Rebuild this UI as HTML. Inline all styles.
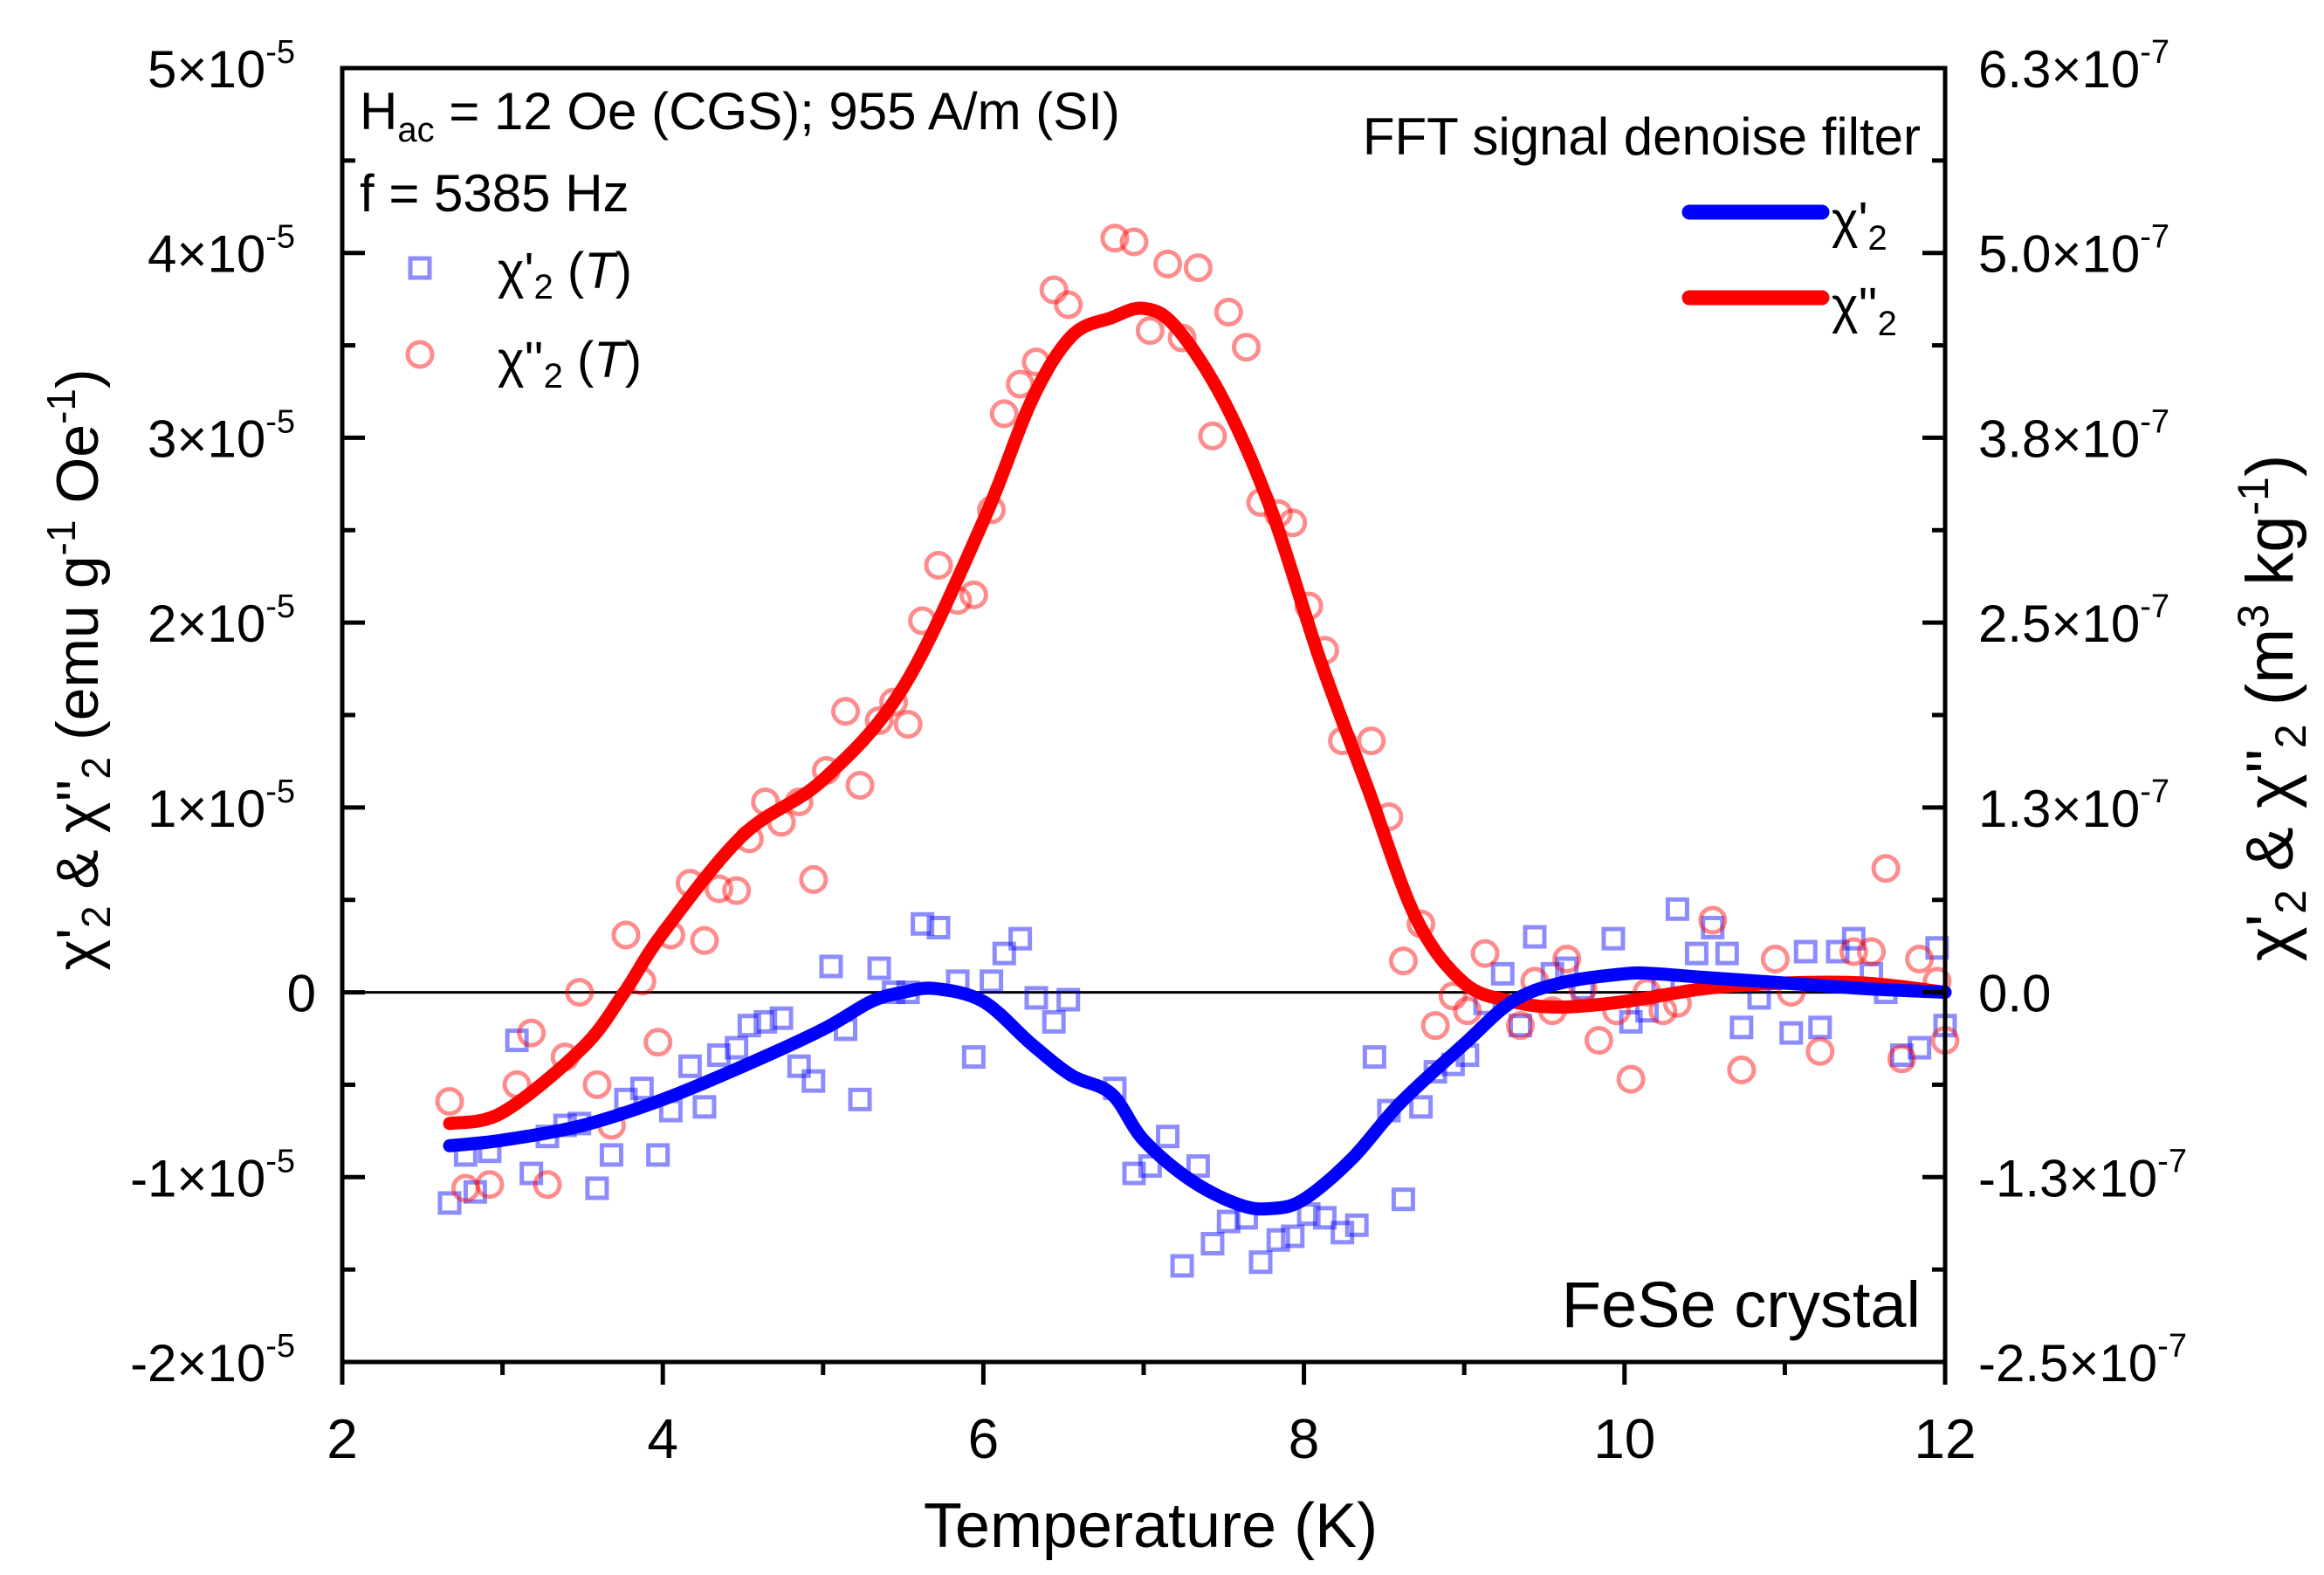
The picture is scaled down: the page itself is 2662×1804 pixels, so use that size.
<!DOCTYPE html>
<html><head><meta charset="utf-8"><style>
html,body{margin:0;padding:0;background:#fff;}
svg{display:block;font-family:"Liberation Sans",Arial,sans-serif;}
</style></head><body>
<svg id="chart" width="2662" height="1804" viewBox="0 0 2662 1804" xmlns="http://www.w3.org/2000/svg">
<g id="marks"></g>
<g id="axes"></g>
<g id="labels">
<text x="412" y="148" font-size="60">H<tspan font-size="40" dy="14">ac</tspan><tspan dy="-14"> = 12 Oe (CGS); 955 A/m (SI)</tspan></text>
<text x="412" y="242" font-size="60">f = 5385 Hz</text>
<text x="2200" y="177" font-size="60" text-anchor="end">FFT signal denoise filter</text>
<text x="2200" y="1520" font-size="74" text-anchor="end">FeSe crystal</text>
<g>
<rect x="470" y="296" width="22" height="22" fill="none" stroke="#0000ff" stroke-opacity="0.45" stroke-width="5"/>
<text x="570" y="330" font-size="58">χ'<tspan font-size="40" dy="12">2</tspan><tspan dy="-12"> (</tspan><tspan font-style="italic">T</tspan>)</text>
<circle cx="481" cy="406" r="14" fill="none" stroke="#ff0000" stroke-opacity="0.45" stroke-width="5"/>
<text x="570" y="432" font-size="58">χ''<tspan font-size="40" dy="12">2</tspan><tspan dy="-12"> (</tspan><tspan font-style="italic">T</tspan>)</text>
</g>
<g>
<line x1="1935" y1="243" x2="2087" y2="243" stroke="#0000ff" stroke-width="17" stroke-linecap="round"/>
<text x="2098" y="272" font-size="58">χ'<tspan font-size="40" dy="14">2</tspan></text>
<line x1="1935" y1="341" x2="2087" y2="341" stroke="#ff0000" stroke-width="17" stroke-linecap="round"/>
<text x="2098" y="370" font-size="58">χ''<tspan font-size="40" dy="14">2</tspan></text>
</g>
<text x="1318" y="1772" font-size="72" text-anchor="middle">Temperature (K)</text>
<text transform="translate(112,767) rotate(-90)" font-size="68" text-anchor="middle">χ'<tspan font-size="46" dy="14">2</tspan><tspan dy="-14"> &amp; χ''</tspan><tspan font-size="46" dy="14">2</tspan><tspan dy="-14"> (emu g</tspan><tspan font-size="46" dy="-26">-1</tspan><tspan dy="26"> Oe</tspan><tspan font-size="46" dy="-26">-1</tspan><tspan dy="26">)</tspan></text>
<text transform="translate(2626,811) rotate(-90)" font-size="76" text-anchor="middle">χ'<tspan font-size="50" dy="15">2</tspan><tspan dy="-15"> &amp; χ''</tspan><tspan font-size="50" dy="15">2</tspan><tspan dy="-15"> (m</tspan><tspan font-size="50" dy="-28">3</tspan><tspan dy="28"> kg</tspan><tspan font-size="50" dy="-28">-1</tspan><tspan dy="28">)</tspan></text>
</g>
</svg>
<script>
const xTicks = [2,4,6,8,10,12];
const yTicksLeft = [-2,-1,0,1,2,3,4,5];
const yTickLabelsLeft = ["-2×10","-1×10","0","1×10","2×10","3×10","4×10","5×10"];
const yTickLabelsRight = ["-2.5×10","-1.3×10","0.0","1.3×10","2.5×10","3.8×10","5.0×10","6.3×10"];
const chi1T = [2.67,2.77,2.83,2.92,3.09,3.18,3.28,3.39,3.48,3.59,3.68,3.77,3.87,3.97,4.05,4.17,4.26,4.35,4.46,4.54,4.64,4.74,4.85,4.94,5.05,5.14,5.23,5.35,5.44,5.53,5.62,5.72,5.84,5.94,6.05,6.13,6.23,6.33,6.44,6.53,6.82,6.94,7.04,7.15,7.24,7.34,7.43,7.53,7.64,7.73,7.84,7.93,8.03,8.13,8.24,8.33,8.44,8.53,8.62,8.73,8.82,8.93,9.02,9.13,9.24,9.35,9.44,9.55,9.64,9.74,9.93,10.04,10.14,10.24,10.33,10.45,10.55,10.64,10.73,10.84,11.04,11.13,11.22,11.33,11.43,11.54,11.63,11.73,11.84,11.95,12.0];
const chi1V = [-1.14,-0.88,-1.08,-0.86,-0.26,-0.98,-0.78,-0.72,-0.71,-1.06,-0.88,-0.58,-0.52,-0.88,-0.64,-0.40,-0.62,-0.34,-0.30,-0.18,-0.16,-0.14,-0.40,-0.48,0.14,-0.20,-0.58,0.13,0,0,0.37,0.35,0.06,-0.35,0.06,0.21,0.29,-0.03,-0.16,-0.04,-0.52,-0.98,-0.94,-0.78,-1.48,-0.94,-1.36,-1.24,-1.22,-1.46,-1.34,-1.32,-1.20,-1.22,-1.30,-1.26,-0.35,-0.64,-1.12,-0.62,-0.43,-0.39,-0.34,-0.06,0.10,-0.18,0.30,0.10,0.13,0.02,0.29,-0.16,-0.10,0.06,0.45,0.21,0.35,0.21,-0.19,-0.03,-0.22,0.22,-0.19,0.22,0.29,0.10,0,-0.34,-0.30,0.24,-0.18];
const chi2T = [2.67,2.77,2.92,3.09,3.18,3.28,3.39,3.48,3.59,3.68,3.77,3.87,3.97,4.05,4.17,4.26,4.35,4.46,4.54,4.64,4.74,4.85,4.94,5.02,5.14,5.23,5.35,5.44,5.53,5.62,5.72,5.84,5.94,6.05,6.13,6.23,6.33,6.44,6.53,6.82,6.94,7.04,7.15,7.24,7.34,7.43,7.53,7.64,7.73,7.84,7.93,8.03,8.13,8.24,8.42,8.53,8.62,8.73,8.82,8.93,9.02,9.13,9.35,9.44,9.55,9.64,9.74,9.84,9.95,10.04,10.14,10.24,10.33,10.55,10.73,10.94,11.04,11.22,11.43,11.54,11.63,11.73,11.84,11.95,12.0];
const chi2V = [-0.59,-1.06,-1.04,-0.50,-0.22,-1.04,-0.35,0.0,-0.50,-0.72,0.31,0.06,-0.27,0.31,0.59,0.28,0.56,0.55,0.83,1.03,0.92,1.03,0.61,1.20,1.52,1.12,1.47,1.57,1.45,2.01,2.31,2.12,2.15,2.61,3.13,3.29,3.41,3.80,3.72,4.08,4.06,3.58,3.94,3.54,3.92,3.01,3.68,3.49,2.65,2.59,2.54,2.09,1.85,1.36,1.36,0.95,0.17,0.37,-0.18,-0.02,-0.10,0.21,-0.18,0.06,-0.10,0.18,0.02,-0.26,-0.10,-0.47,0,-0.10,-0.06,0.39,-0.42,0.18,0,-0.32,0.22,0.22,0.67,-0.36,0.18,0.06,-0.26];
const fitT = [2.67,3.0,3.5,4.0,4.5,5.0,5.3,5.5,5.7,6.0,6.3,6.55,6.8,7.0,7.3,7.6,7.8,8.0,8.3,8.6,9.0,9.3,9.6,10.0,10.2,10.5,11.0,11.5,12.0];
const fit1V = [-0.83,-0.80,-0.72,-0.58,-0.40,-0.20,-0.05,0.0,0.02,-0.05,-0.28,-0.45,-0.55,-0.80,-1.02,-1.15,-1.17,-1.12,-0.90,-0.60,-0.28,-0.05,0.05,0.10,0.10,0.08,0.05,0.02,0.0];
const fit2T = [2.67,3.0,3.5,3.76,4.0,4.5,5.0,5.5,6.0,6.3,6.55,6.8,7.0,7.2,7.5,7.8,8.1,8.4,8.7,9.0,9.3,9.6,10.0,10.5,11.0,11.5,12.0];
const fit2V = [-0.71,-0.65,-0.30,0.0,0.32,0.85,1.15,1.65,2.55,3.2,3.55,3.65,3.70,3.6,3.2,2.6,1.8,1.1,0.4,0.05,-0.05,-0.08,-0.05,0.02,0.05,0.05,0.0];

const L=392,R=2228,T=78,B=1560;
const xs = t => L + (t-2)/(12-2)*(R-L);
const ys = v => B - (v+2)/7*(B-T);
const NS="http://www.w3.org/2000/svg";
const marks=document.getElementById('marks'), axes=document.getElementById('axes');
function mk(tag, parent, attrs){const e=document.createElementNS(NS,tag);for(const k in attrs)e.setAttribute(k,attrs[k]);parent.appendChild(e);return e;}

const zl=mk('line',marks,{x1:L,x2:R,y1:ys(0),y2:ys(0),stroke:'#000','stroke-width':3});



chi1T.forEach((t,i)=>{
  const r=mk('rect',marks,{x:xs(t)-11,y:ys(chi1V[i])-11,width:22,height:22,fill:'none',stroke:'#0000ff','stroke-opacity':0.45,'stroke-width':5});
  
  
});
chi2T.forEach((t,i)=>{
  const c=mk('circle',marks,{cx:xs(t),cy:ys(chi2V[i]),r:14,fill:'none',stroke:'#ff0000','stroke-opacity':0.45,'stroke-width':5});
  
  
});
function smooth(tx,vy){
  const p=tx.map((t,i)=>[xs(t),ys(vy[i])]);
  let d='M'+p[0][0]+','+p[0][1];
  for(let i=0;i<p.length-1;i++){
    const p0=p[Math.max(0,i-1)],p1=p[i],p2=p[i+1],p3=p[Math.min(p.length-1,i+2)];
    const c1=[p1[0]+(p2[0]-p0[0])/6,p1[1]+(p2[1]-p0[1])/6];
    const c2=[p2[0]-(p3[0]-p1[0])/6,p2[1]-(p3[1]-p1[1])/6];
    d+=' C'+c1+' '+c2+' '+p2;
  }
  return d;
}
const l2=mk('path',marks,{d:smooth(fit2T,fit2V),fill:'none',stroke:'#ff0000','stroke-width':15,'stroke-linejoin':'round','stroke-linecap':'round'});


const l1=mk('path',marks,{d:smooth(fitT,fit1V),fill:'none',stroke:'#0000ff','stroke-width':15,'stroke-linejoin':'round','stroke-linecap':'round'});



const fr=mk('rect',axes,{x:L,y:T,width:R-L,height:B-T,fill:'none',stroke:'#000','stroke-width':5});



xTicks.forEach((t,i)=>{
  const tk=mk('line',axes,{x1:xs(t),x2:xs(t),y1:B,y2:B+26,stroke:'#000','stroke-width':5});
  
  
  if(i<xTicks.length-1){
    const m=mk('line',axes,{x1:xs(t+1),x2:xs(t+1),y1:B,y2:B+15,stroke:'#000','stroke-width':5});
    
    
  }
  const lb=mk('text',axes,{x:xs(t),y:1670,'font-size':64,'text-anchor':'middle'});
  lb.textContent=t;
  
  
});
yTicksLeft.forEach((v,i)=>{
  const y=ys(v);
  [[L,L+26],[R,R-26]].forEach(([a,b])=>{
    const tk=mk('line',axes,{x1:a,x2:b,y1:y,y2:y,stroke:'#000','stroke-width':5});
    
    
  });
  if(i<yTicksLeft.length-1){
    const ym=ys(v+0.5);
    [[L,L+15],[R,R-15]].forEach(([a,b])=>{
      const m=mk('line',axes,{x1:a,x2:b,y1:ym,y2:ym,stroke:'#000','stroke-width':5});
      
      
    });
  }
  const lt=yTickLabelsLeft[i];
  const lb=mk('text',axes,{x:lt==='0'?362:338,y:y+22,'font-size':60,'text-anchor':'end'});
  lb.textContent=lt;
  if(lt!=='0'){const s=mk('tspan',lb,{'font-size':38,dy:-28});s.textContent='-5';}
  
  
  const rt=yTickLabelsRight[i];
  const rb=mk('text',axes,{x:2266,y:y+22,'font-size':60});
  rb.textContent=rt;
  if(rt!=='0.0'){const s=mk('tspan',rb,{'font-size':38,dy:-28});s.textContent='-7';}
  
  
});
</script>
</body></html>
